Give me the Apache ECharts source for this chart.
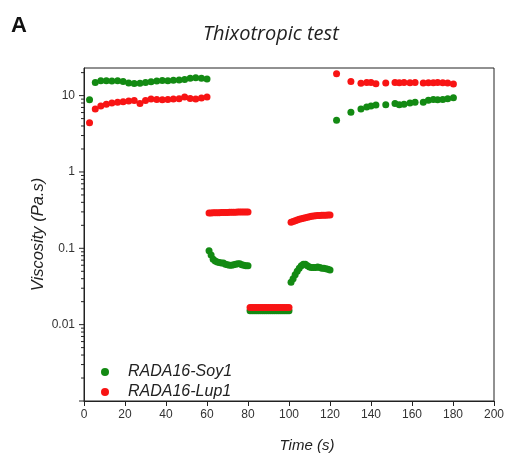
<!DOCTYPE html>
<html>
<head>
<meta charset="utf-8">
<script src="https://cdn.jsdelivr.net/npm/echarts@6/dist/echarts.min.js"></script>
<style>
  html, body { margin: 0; padding: 0; background: #fff; }
  #chart { width: 510px; height: 455px; }
</style>
</head>
<body>
<div id="chart"></div>
<script>
// time points (s) for each step of the test
const phase1Time = [2.7, 5.5, 8.2, 10.9, 13.6, 16.4, 19.1, 21.8, 24.5, 27.3, 30.0, 32.7, 35.5, 38.2, 40.9, 43.6, 46.4, 49.1, 51.8, 54.5, 57.3, 60.0];
const phase2Time = [61, 62, 63, 64, 65, 66, 67, 68, 69, 70, 71, 72, 73, 74, 75, 76, 77, 78, 79, 80];
const phase3Time = [81, 82, 83, 84, 85, 86, 87, 88, 89, 90, 91, 92, 93, 94, 95, 96, 97, 98, 99, 100];
const phase4Time = [101, 102, 103, 104, 105, 106, 107, 108, 109, 110, 111, 112, 113, 114, 115, 116, 117, 118, 119, 120];
const phase5Time = [123.2, 130.2, 135.1, 137.9, 140.0, 142.4, 147.2, 151.7, 153.8, 156.1, 159.0, 161.5, 165.5, 168.0, 170.4, 172.5, 175.0, 177.4, 180.2];

// viscosity (Pa.s), RADA16-Soy1
const soyPhase1 = [8.8, 14.8, 15.7, 15.6, 15.5, 15.6, 15.3, 14.6, 14.4, 14.5, 14.9, 15.2, 15.5, 15.8, 15.7, 15.9, 16.0, 16.2, 16.9, 17.2, 16.9, 16.5];
const soyPhase2 = [0.093, 0.082, 0.072, 0.068, 0.066, 0.065, 0.064, 0.064, 0.062, 0.061, 0.060, 0.060, 0.061, 0.062, 0.063, 0.063, 0.061, 0.060, 0.059, 0.059];
const soyPhase3 = [0.0152, 0.0152, 0.0152, 0.0152, 0.0152, 0.0152, 0.0152, 0.0152, 0.0152, 0.0152, 0.0152, 0.0152, 0.0152, 0.0152, 0.0152, 0.0152, 0.0152, 0.0152, 0.0152, 0.0152];
const soyPhase4 = [0.036, 0.040, 0.045, 0.050, 0.055, 0.059, 0.062, 0.062, 0.059, 0.057, 0.056, 0.056, 0.056, 0.057, 0.056, 0.055, 0.055, 0.054, 0.053, 0.052];
const soyPhase5 = [4.75, 6.05, 6.7, 7.1, 7.3, 7.55, 7.6, 7.9, 7.6, 7.7, 8.0, 8.2, 8.2, 8.7, 8.9, 8.8, 8.9, 9.1, 9.4];

// viscosity (Pa.s), RADA16-Lup1
const lupPhase1 = [4.4, 6.7, 7.3, 7.7, 8.0, 8.2, 8.3, 8.5, 8.6, 7.9, 8.6, 9.0, 8.9, 8.8, 8.9, 9.0, 9.1, 9.6, 9.2, 9.0, 9.3, 9.6];
const lupPhase2 = [0.290, 0.291, 0.292, 0.292, 0.293, 0.293, 0.294, 0.294, 0.295, 0.295, 0.296, 0.296, 0.297, 0.297, 0.298, 0.298, 0.298, 0.299, 0.299, 0.298];
const lupPhase3 = [0.0168, 0.0168, 0.0168, 0.0168, 0.0168, 0.0168, 0.0168, 0.0168, 0.0168, 0.0168, 0.0168, 0.0168, 0.0168, 0.0168, 0.0168, 0.0168, 0.0168, 0.0168, 0.0168, 0.0168];
const lupPhase4 = [0.220, 0.225, 0.230, 0.235, 0.240, 0.244, 0.248, 0.252, 0.256, 0.259, 0.262, 0.264, 0.266, 0.268, 0.270, 0.271, 0.272, 0.272, 0.273, 0.273];
const lupPhase5 = [19.4, 15.3, 14.5, 14.9, 14.9, 14.3, 14.6, 14.8, 14.7, 14.8, 14.7, 14.8, 14.6, 14.7, 14.7, 14.8, 14.7, 14.6, 14.2];

const seriesNames = ['RADA16-Soy1', 'RADA16-Lup1'];
const yLabels = { '-2': '0.01', '-1': '0.1', '0': '1', '1': '10' };
const majorTickValues = [0.001, 0.01, 0.1, 1, 10];
const minorTickValues = [0.002, 0.003, 0.004, 0.005, 0.006, 0.007, 0.008, 0.009,
  0.02, 0.03, 0.04, 0.05, 0.06, 0.07, 0.08, 0.09,
  0.2, 0.3, 0.4, 0.5, 0.6, 0.7, 0.8, 0.9,
  2, 3, 4, 5, 6, 7, 8, 9, 20];

const ARIAL = '"Liberation Sans", Arial, sans-serif';

const times = [phase1Time, phase2Time, phase3Time, phase4Time, phase5Time];
const pairUp = function (phases) {
  const out = [];
  phases.forEach(function (vals, p) {
    vals.forEach(function (v, i) { out.push([times[p][i], v]); });
  });
  return out;
};
const soyData = pairUp([soyPhase1, soyPhase2, soyPhase3, soyPhase4, soyPhase5]);
const lupData = pairUp([lupPhase1, lupPhase2, lupPhase3, lupPhase4, lupPhase5]);

const tickData = majorTickValues.map(function (v) { return [0, v, 5]; })
  .concat(minorTickValues.map(function (v) { return [0, v, 3]; }));

const chart = echarts.init(document.getElementById('chart'));
chart.setOption({
  animation: false,
  backgroundColor: '#fff',
  title: {
    text: 'Thixotropic test',
    left: 198,
    top: 19,
    textStyle: { fontFamily: '"Open Sans"', fontStyle: 'italic', fontWeight: 'normal', fontSize: 20, color: '#222' }
  },
  graphic: [{
    type: 'text',
    left: 11,
    top: 15,
    style: { text: 'A', font: 'bold 22px "Liberation Sans", Arial', fill: '#111' }
  }],
  legend: {
    data: seriesNames,
    orient: 'vertical',
    left: 96,
    top: 358,
    itemWidth: 8,
    itemHeight: 8,
    itemGap: 2,
    icon: 'circle',
    textStyle: {
      fontFamily: ARIAL, fontStyle: 'italic', fontSize: 16, color: '#222',
      lineHeight: 18, padding: [0, 0, 0, 14]
    }
  },
  grid: {
    left: 84, right: 16, top: 68, bottom: 54,
    outerBoundsMode: 'none',
    containLabel: false,
    show: true, borderColor: '#222', borderWidth: 1
  },
  xAxis: {
    type: 'value',
    min: 0, max: 200, interval: 20,
    name: 'Time (s)',
    nameLocation: 'middle',
    nameGap: 37,
    nameTextStyle: {
      fontFamily: ARIAL, fontStyle: 'italic', fontSize: 15, color: '#222',
      padding: [0, 0, 0, 36]
    },
    axisLine: { lineStyle: { color: '#222', width: 1 } },
    axisTick: { length: 5, lineStyle: { color: '#222' } },
    axisLabel: { margin: 8, fontFamily: ARIAL, fontSize: 12, color: '#333' },
    splitLine: { show: false }
  },
  yAxis: {
    type: 'log',
    logBase: 10,
    min: 0.001, max: 23,
    name: 'Viscosity (Pa.s)',
    nameLocation: 'middle',
    nameGap: 37,
    nameMoveOverlap: false,
    nameTextStyle: { fontFamily: ARIAL, fontStyle: 'italic', fontSize: 16.5, color: '#222' },
    axisLine: { lineStyle: { color: '#222', width: 1 } },
    axisTick: { show: false },
    axisLabel: {
      margin: 9, fontFamily: ARIAL, fontSize: 12, color: '#333',
      formatter: function (v) {
        const e = Math.log10(v);
        const k = Math.round(e);
        if (Math.abs(e - k) > 1e-6) return '';
        return yLabels[String(k)] || '';
      }
    },
    splitLine: { show: false }
  },
  series: [
    {
      name: seriesNames[0], type: 'scatter', data: soyData,
      symbol: 'circle', symbolSize: 7,
      itemStyle: { color: '#138a13', opacity: 1 }
    },
    {
      name: seriesNames[1], type: 'scatter', data: lupData,
      symbol: 'circle', symbolSize: 7,
      itemStyle: { color: '#f81414', opacity: 1 }
    },
    {
      // log ticks on the y axis (decades + 2..9 minors)
      type: 'custom', data: tickData, silent: true, clip: false,
      renderItem: function (params, api) {
        const p = api.coord([api.value(0), api.value(1)]);
        const len = api.value(2);
        return {
          type: 'line',
          shape: { x1: p[0] - len, y1: p[1], x2: p[0], y2: p[1] },
          style: { stroke: '#222', lineWidth: 1 }
        };
      }
    }
  ]
});
</script>
</body>
</html>
